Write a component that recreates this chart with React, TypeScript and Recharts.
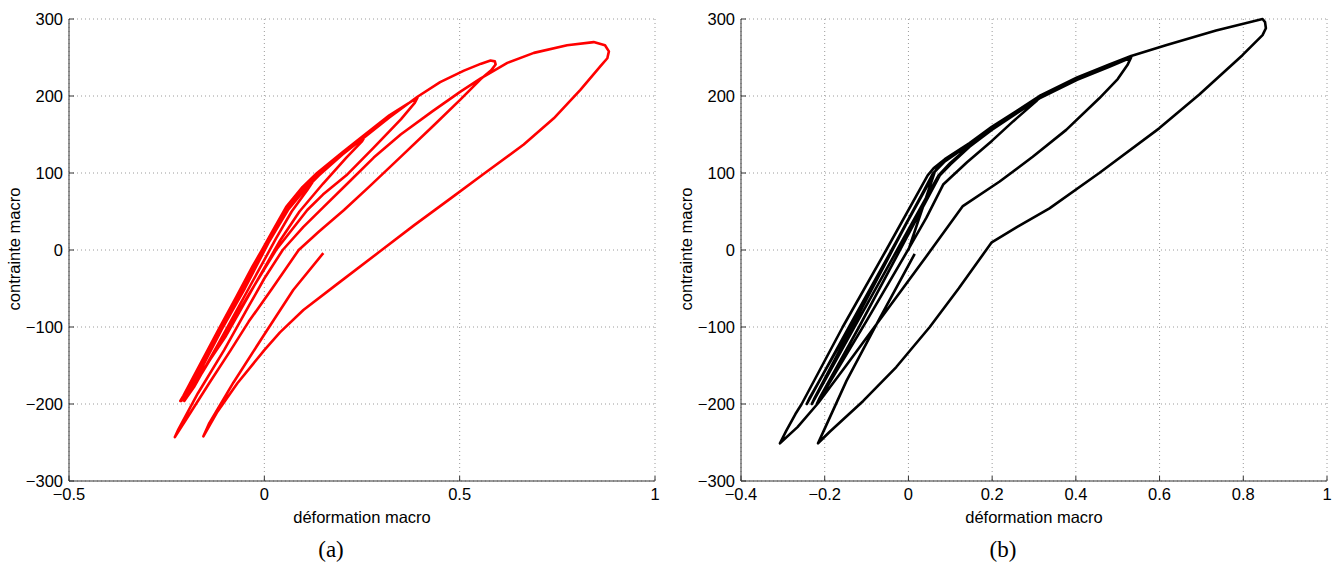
import React from 'react';
import { LineChart, Line, XAxis, YAxis, CartesianGrid } from 'recharts';

// (a) red path: [déformation, contrainte] pairs, in loading order
const PATH_A: [number, number][] = [
  [0, 0], [0.03, 27], [0.054, 52],
  [0.046, 44], [-0.05, -50], [-0.13, -122], [-0.19, -178], [-0.213, -196],
  [-0.205, -190], [-0.12, -107], [-0.03, -21], [0.02, 23], [0.057, 55], [0.1, 81], [0.136, 99],
  [0.13, 93], [0.11, 78], [0.07, 50], [0.03, 15], [-0.04, -50], [-0.12, -124], [-0.18, -178], [-0.205, -196],
  [-0.198, -190], [-0.11, -104], [-0.022, -18], [0.022, 22], [0.06, 54], [0.1, 79], [0.137, 97], [0.2, 125], [0.258, 148],
  [0.25, 141], [0.21, 120], [0.15, 86], [0.09, 50], [0.04, 12], [-0.03, -50], [-0.1, -113], [-0.17, -166], [-0.215, -196],
  [-0.207, -189], [-0.118, -104], [-0.028, -20], [0.018, 22], [0.056, 56], [0.098, 82], [0.135, 100], [0.2, 127],
  [0.255, 149], [0.32, 175], [0.392, 198],
  [0.385, 191], [0.35, 170], [0.28, 133], [0.21, 97], [0.15, 72], [0.11, 52], [0.07, 26], [0.03, 0], [-0.04, -58],
  [-0.1, -110], [-0.16, -160], [-0.208, -195],
  [-0.2, -189], [-0.11, -103], [-0.02, -17], [0.024, 21], [0.062, 53], [0.103, 78], [0.14, 97], [0.2, 124], [0.258, 147],
  [0.32, 172], [0.392, 199], [0.45, 218], [0.511, 233], [0.555, 242], [0.579, 246], [0.59, 245],
  [0.592, 241], [0.58, 233], [0.554, 222], [0.503, 196], [0.434, 162], [0.349, 121], [0.27, 83], [0.204, 52], [0.14, 24],
  [0.088, 0], [0.02, -50], [-0.04, -93], [-0.086, -130], [-0.14, -172], [-0.19, -212], [-0.229, -243],
  [-0.22, -233], [-0.17, -186], [-0.103, -130], [-0.04, -73], [0.0, -37], [0.047, 0], [0.1, 30], [0.15, 55], [0.22, 90],
  [0.28, 120], [0.349, 150], [0.43, 180], [0.503, 206], [0.554, 223], [0.622, 243], [0.69, 256], [0.775, 266],
  [0.843, 270], [0.872, 266], [0.882, 258],
  [0.878, 249], [0.861, 239], [0.809, 208], [0.741, 171], [0.664, 137], [0.562, 99], [0.477, 67], [0.383, 32],
  [0.298, -1], [0.187, -44], [0.1, -78], [0.04, -107], [0.0, -130], [-0.069, -173], [-0.12, -210], [-0.156, -242],
  [-0.142, -226], [-0.079, -172], [-0.003, -112], [0.074, -52], [0.151, -4],
];

// (b) black path
const PATH_B: [number, number][] = [
  [0, 0], [0.062, 100],
  [0.055, 93], [-0.04, 0], [-0.14, -98], [-0.243, -200],
  [-0.236, -192], [-0.14, -100], [-0.042, -2], [0.052, 92], [0.066, 104], [0.087, 116], [0.146, 137], [0.17, 146],
  [0.14, 132], [0.1, 113], [0.072, 97], [-0.027, 0], [-0.13, -101], [-0.231, -200],
  [-0.224, -192], [-0.135, -100], [-0.038, 0], [0.058, 99], [0.087, 115], [0.146, 137], [0.199, 158], [0.26, 179], [0.313, 198],
  [0.305, 193], [0.25, 167], [0.2, 142], [0.14, 114], [0.083, 85], [0.043, 42], [0.0, 1], [-0.1, -92], [-0.219, -200],
  [-0.212, -192], [-0.118, -100], [-0.02, 0], [0.075, 97], [0.1, 111], [0.146, 134], [0.199, 156], [0.26, 178],
  [0.313, 197], [0.403, 221], [0.48, 238], [0.532, 250],
  [0.524, 241], [0.5, 222], [0.456, 197], [0.377, 156], [0.297, 121], [0.218, 89], [0.13, 57], [0.05, -3],
  [-0.05, -77], [-0.15, -151], [-0.216, -199], [-0.265, -230], [-0.307, -251],
  [-0.292, -235], [-0.27, -213], [-0.255, -200], [-0.157, -100], [-0.053, 0], [0.046, 97], [0.06, 106], [0.087, 118],
  [0.146, 139], [0.199, 160], [0.26, 181], [0.313, 200], [0.403, 224], [0.48, 241], [0.532, 252], [0.615, 266],
  [0.735, 285], [0.846, 300],
  [0.852, 296], [0.854, 288], [0.846, 279], [0.798, 253], [0.695, 202], [0.599, 158], [0.456, 100], [0.337, 54],
  [0.26, 30], [0.199, 10], [0.17, -12], [0.12, -50], [0.051, -100], [-0.029, -152], [-0.108, -196], [-0.188, -236],
  [-0.216, -251],
  [-0.2, -232], [-0.148, -170], [-0.07, -90], [0.015, -5],
];

const X_TICKS_A = [-0.5, 0, 0.5, 1];
const X_TICKS_B = [-0.4, -0.2, 0, 0.2, 0.4, 0.6, 0.8, 1];
const Y_TICKS = [-300, -200, -100, 0, 100, 200, 300];

const FONT = '"Liberation Sans", Arial, sans-serif';
const fmt = (v: number) => String(v).replace('-', '\u2212');

interface PanelProps {
  left: number;
  path: [number, number][];
  xTicks: number[];
  color: string;
  caption: string;
}

const Panel: React.FC<PanelProps> = ({ left, path, xTicks, color, caption }) => {
  const data = path.map(([x, y]) => ({ x, y }));
  const tick = { fontSize: 16.5, fill: '#000', fontFamily: FONT };
  return (
    <div style={{ position: 'absolute', left, top: 0, width: 670, height: 565 }}>
      <LineChart width={670} height={565} data={data} margin={{ top: 19, right: 15, bottom: 24, left: 9 }}>
        <CartesianGrid stroke="#9a9a9a" strokeDasharray="1 3" />
        <XAxis
          type="number"
          dataKey="x"
          domain={[xTicks[0], xTicks[xTicks.length - 1]]}
          ticks={xTicks}
          tickFormatter={fmt}
          tick={tick}
          tickSize={-5}
          tickMargin={12}
          height={60}
          stroke="#333"
          interval={0}
        />
        <YAxis
          type="number"
          domain={[-300, 300]}
          ticks={Y_TICKS}
          tickFormatter={fmt}
          tick={tick}
          tickSize={-5}
          tickMargin={11}
          width={60}
          stroke="#333"
          interval={0}
        />
        <Line
          type="linear"
          dataKey="y"
          stroke={color}
          strokeWidth={2.6}
          strokeLinejoin="round"
          dot={false}
          activeDot={false}
          isAnimationActive={false}
        />
      </LineChart>
      <div
        style={{
          position: 'absolute', left: 14, top: 249, transform: 'translate(-50%,-50%) rotate(-90deg)',
          whiteSpace: 'nowrap', fontFamily: FONT, fontSize: 16.5, lineHeight: 1,
        }}
      >
        contrainte macro
      </div>
      <div
        style={{
          position: 'absolute', left: 362, top: 517, transform: 'translate(-50%,-50%)',
          whiteSpace: 'nowrap', fontFamily: FONT, fontSize: 16.5, lineHeight: 1,
        }}
      >
        déformation macro
      </div>
      <div
        style={{
          position: 'absolute', left: 331, top: 549, transform: 'translate(-50%,-50%)',
          whiteSpace: 'nowrap', fontFamily: '"Liberation Serif", serif', fontSize: 23, lineHeight: 1,
        }}
      >
        {caption}
      </div>
    </div>
  );
};

export default function App() {
  return (
    <div style={{ position: 'absolute', left: 0, top: 0, width: 1342, height: 565, background: '#fff' }}>
      <Panel left={0} path={PATH_A} xTicks={X_TICKS_A} color="#f00" caption="(a)" />
      <Panel left={672} path={PATH_B} xTicks={X_TICKS_B} color="#000" caption="(b)" />
    </div>
  );
}
